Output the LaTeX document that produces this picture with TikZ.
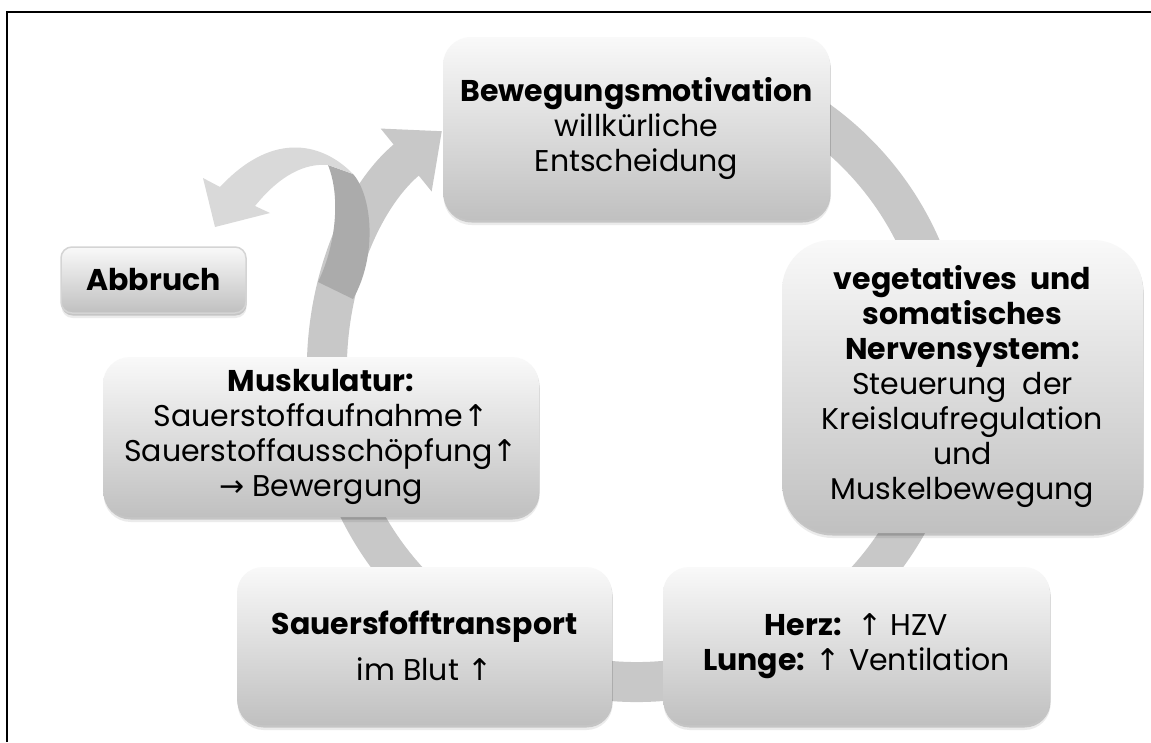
\documentclass[tikz,border=0pt]{standalone}
\usepackage{fontspec}
\setmainfont{Poppins}
\newfontfamily\arrowfont{DejaVu Sans}
\usetikzlibrary{calc,shadows,arrows.meta}
\definecolor{ringgray}{RGB}{200,200,200}
\definecolor{ribbonlight}{RGB}{217,217,217}
\definecolor{ribbondark}{RGB}{171,171,171}
\definecolor{boxtop}{RGB}{249,249,249}
\definecolor{boxbottom}{RGB}{192,192,192}
\definecolor{boxedge}{RGB}{212,212,212}
\newcommand{\arrup}{{\arrowfont ↑}}
\newcommand{\arrright}{{\arrowfont →}}

\tikzset{
  cyclebox/.style={rounded corners=#1, top color=boxtop, bottom color=boxbottom,
    align=center, inner sep=0pt, font=\fontsize{30}{35}\selectfont,
    drop shadow={shadow xshift=0.6pt, shadow yshift=-2.5pt, opacity=0.16, fill=black},
    drop shadow={shadow xshift=0.6pt, shadow yshift=-5pt, opacity=0.08, fill=black}},
  cyclebox/.default=26pt,
}

\begin{document}
\begin{tikzpicture}[x=1pt,y=-1pt]

  % ── CANVAS + FRAME ─────────────────────────────────────────────────────────
  \useasboundingbox (0,0) rectangle (1151,742);
  \fill[white] (0,0) rectangle (1151,742);
  \draw[black,line width=2pt] (7,742) -- (7,12) -- (1151,12);

  % ── CYCLE RING ─────────────────────────────────────────────────────────────
  % one thick arc round (637,372), tail hidden under the top box
  \coordinate (ctr) at (637,372);
  \draw[ringgray,line width=40pt,-{Triangle[width=78pt,length=46pt]}]
    ($(ctr)+(-100:310)$) arc[start angle=-100,end angle=231,radius=310];

  % ── ABBRUCH RIBBON ─────────────────────────────────────────────────────────
  % dark back side rising from the ring, light front curling to the left
  \fill[ribbondark] (318,282) .. controls (334,250) and (342,200) .. (328,165)
    -- (353,174) .. controls (372,195) and (378,255) .. (353,299) -- cycle;
  \fill[ribbonlight] (353,174) .. controls (325,145) and (275,128) .. (220,187)
    -- (203,178) -- (215,227) -- (270,213) -- (255,206)
    .. controls (280,175) and (305,163) .. (328,165) -- cycle;

  % ── BOXES ──────────────────────────────────────────────────────────────────
  \node[cyclebox=28pt,minimum width=387pt,minimum height=183pt] (motiv) at (636.5,128.5)
    {\textbf{Bewegungsmotivation}\\willkürliche\\Entscheidung};
  \node[cyclebox=50pt,minimum width=361pt,minimum height=293pt] (nerven) at (962.5,386.5)
    {\textbf{vegetatives\ \ und}\\\textbf{somatisches}\\\textbf{Nervensystem:}\\
     Steuerung\ \ der\\Kreislaufregulation\\und\\Muskelbewegung};
  \node[cyclebox,minimum width=387pt,minimum height=158pt] (herz) at (856.5,646)
    {\textbf{Herz:}\ \ \arrup{} HZV\\\textbf{Lunge:} \arrup{} Ventilation};
  \node[cyclebox,minimum width=375pt,minimum height=158pt] (transport) at (424.5,646)
    {\textbf{Sauersfofftransport}\\[11pt]im Blut \arrup};
  \node[cyclebox=27pt,minimum width=436pt,minimum height=160pt] (muskel) at (321,437)
    {\textbf{Muskulatur:}\\Sauerstoffaufnahme\arrup\\Sauerstoffausschöpfung\arrup\\
     \arrright{} Bewergung};

  % small exit box, thin light rim
  \node[cyclebox=11pt,draw=boxedge,line width=1.5pt,minimum width=185pt,minimum height=66pt]
    (abbruch) at (153.5,280) {\textbf{Abbruch}};

\end{tikzpicture}
\end{document}
